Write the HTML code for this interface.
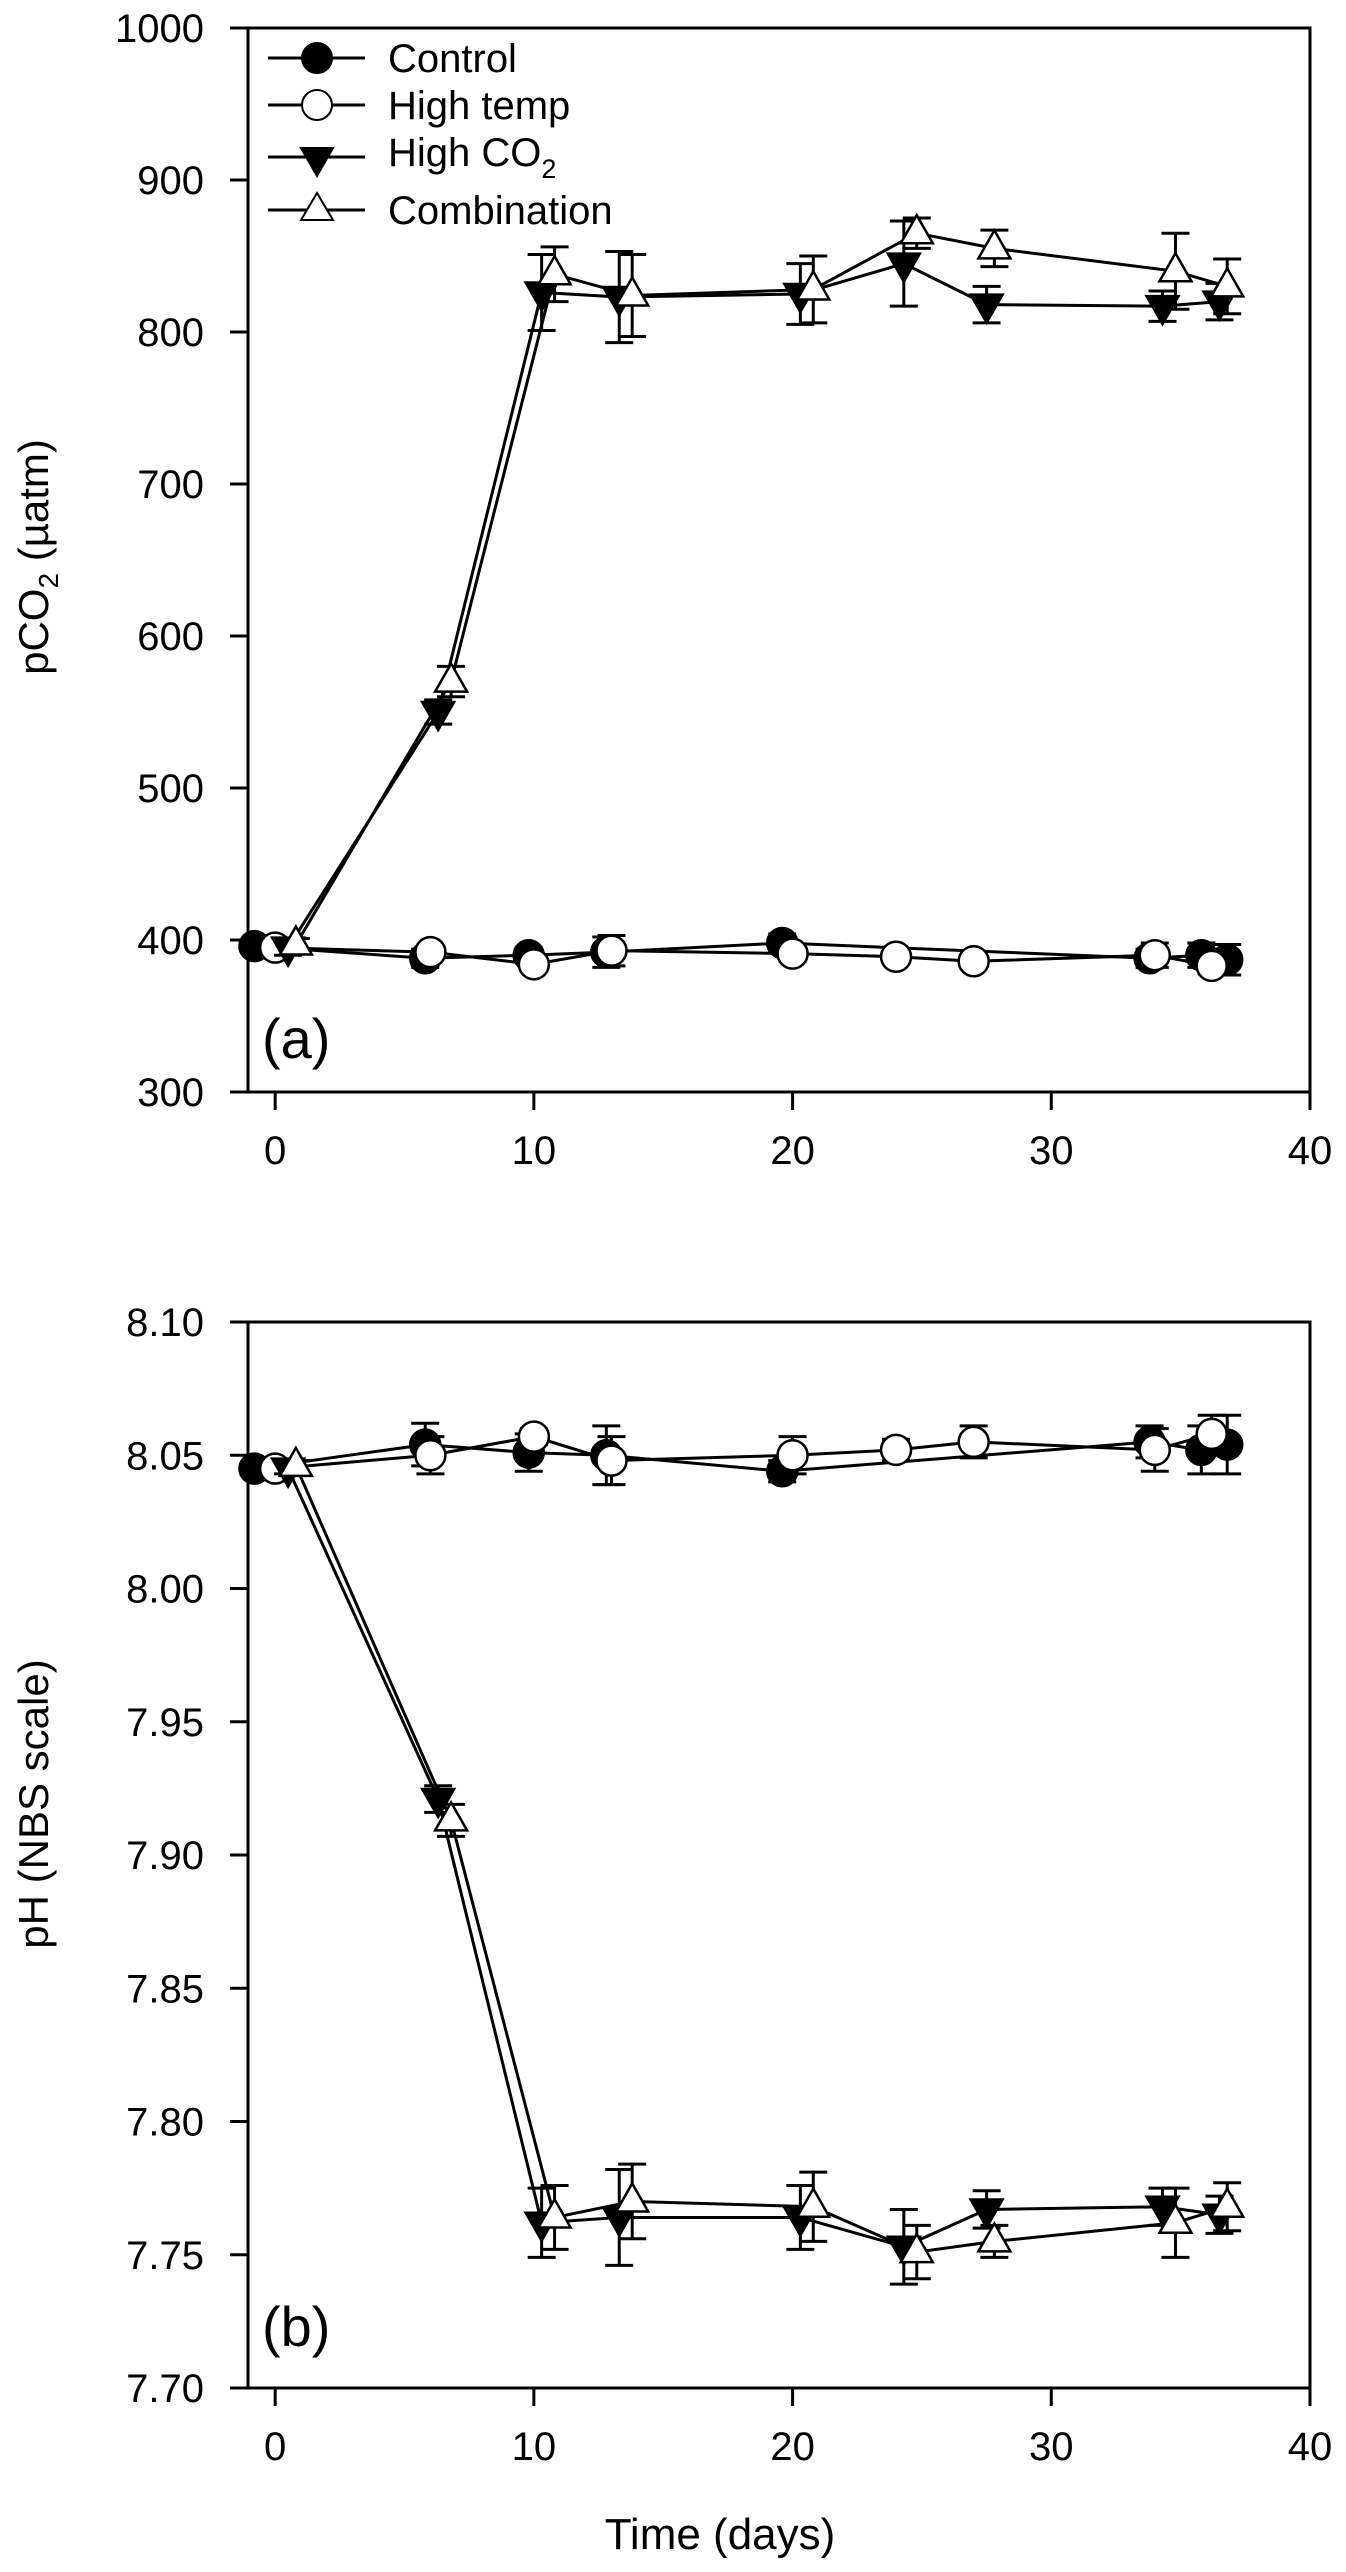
<!DOCTYPE html>
<html><head><meta charset="utf-8"><style>
html,body{margin:0;padding:0;background:#fff;}
svg{display:block;font-family:"Liberation Sans",Arial,sans-serif;}
</style></head><body>
<svg id="chart" width="1346" height="2572" viewBox="0 0 1346 2572" xmlns="http://www.w3.org/2000/svg">
<rect x="0" y="0" width="1346" height="2572" fill="#fff"/>
<g id="pa"></g>
<g id="pb"></g>
<text transform="translate(48,557) rotate(-90)" text-anchor="middle" font-size="42">pCO<tspan font-size="28" dy="10">2</tspan><tspan dy="-10"> (µatm)</tspan></text>
<text transform="translate(48,1804) rotate(-90)" text-anchor="middle" font-size="42">pH (NBS scale)</text>
<text x="720" y="2549" text-anchor="middle" font-size="44">Time (days)</text>
<text x="262" y="1058" font-size="56">(a)</text>
<text x="262" y="2346" font-size="56">(b)</text>
<g>
  <g><line x1="268" y1="58" x2="365" y2="58" stroke="#000" stroke-width="3"/><circle cx="317" cy="58" r="15" fill="#000" stroke="#000" stroke-width="2"/><text x="388" y="72" font-size="40">Control</text></g>
  <g><line x1="268" y1="105" x2="365" y2="105" stroke="#000" stroke-width="3"/><circle cx="317" cy="105" r="15" fill="#fff" stroke="#000" stroke-width="2"/><text x="388" y="119" font-size="40">High temp</text></g>
  <g><line x1="268" y1="157" x2="365" y2="157" stroke="#000" stroke-width="3"/><polygon points="301,148 333,148 317,176" fill="#000" stroke="#000" stroke-width="2"/><text x="388" y="166" font-size="40">High CO<tspan font-size="27" dy="12">2</tspan></text></g>
  <g><line x1="268" y1="210" x2="365" y2="210" stroke="#000" stroke-width="3"/><polygon points="301,220 333,220 317,193" fill="#fff" stroke="#000" stroke-width="2"/><text x="388" y="224" font-size="40">Combination</text></g>
</g>
</svg>
<script>
const xTicks = [0, 10, 20, 30, 40];
const aTicks = [300, 400, 500, 600, 700, 800, 900, 1000];
const bTicks = [7.70, 7.75, 7.80, 7.85, 7.90, 7.95, 8.00, 8.05, 8.10];

const ctrlDays = [-0.8, 5.8, 9.8, 12.8, 19.6, 33.8, 35.8, 36.8];
const tempDays = [0, 6, 10, 13, 20, 24, 27, 34, 36.2];
const co2Days = [0.5, 6.3, 10.3, 13.3, 20.3, 24.3, 27.5, 34.3, 36.5];
const combDays = [0.8, 6.8, 10.8, 13.8, 20.8, 24.8, 27.8, 34.8, 36.8];

const ctrlPco2 = [396, 388, 390, 392, 398, 388, 390, 387];
const ctrlPco2Err = [4, 6, 5, 10, 6, 6, 8, 10];
const tempPco2 = [395, 392, 384, 393, 391, 389, 386, 390, 383];
const tempPco2Err = [3, 4, 4, 10, 5, 3, 4, 8, 5];
const co2Pco2 = [395, 550, 826, 823, 825, 845, 818, 817, 820];
const co2Pco2Err = [5, 8, 25, 30, 20, 28, 12, 10, 12];
const combPco2 = [397, 570, 838, 824, 828, 865, 855, 840, 830];
const combPco2Err = [4, 10, 18, 27, 22, 10, 12, 25, 18];

const ctrlPh = [8.045, 8.054, 8.051, 8.050, 8.044, 8.055, 8.052, 8.054];
const ctrlPhErr = [0.002, 0.008, 0.007, 0.011, 0.004, 0.006, 0.009, 0.011];
const tempPh = [8.045, 8.050, 8.057, 8.048, 8.050, 8.052, 8.055, 8.052, 8.058];
const tempPhErr = [0.002, 0.007, 0.003, 0.009, 0.007, 0.004, 0.006, 0.008, 0.007];
const co2Ph = [8.045, 7.921, 7.762, 7.764, 7.764, 7.753, 7.767, 7.768, 7.765];
const co2PhErr = [0.002, 0.005, 0.013, 0.018, 0.012, 0.014, 0.007, 0.007, 0.007];
const combPh = [8.046, 7.913, 7.764, 7.770, 7.768, 7.751, 7.755, 7.762, 7.768];
const combPhErr = [0.002, 0.006, 0.012, 0.014, 0.013, 0.010, 0.006, 0.013, 0.009];

const NS = 'http://www.w3.org/2000/svg';
const X0 = 248, X1 = 1310, DMIN = -1.05, DMAX = 40;
function xs(d){ return X0 + (d - DMIN) / (DMAX - DMIN) * (X1 - X0); }
function mk(parent, tag, attrs){
  const e = document.createElementNS(NS, tag);
  for (const k in attrs) e.setAttribute(k, attrs[k]);
  parent.appendChild(e);
  return e;
}
function panel(g, top, bot, vmin, vmax, ticks, dec, series){
  const ys = v => bot - (v - vmin) / (vmax - vmin) * (bot - top);
  const frame = mk(g, 'rect', {x:X0, y:top, width:X1-X0, height:bot-top, fill:'none', stroke:'#000', 'stroke-width':3});
  
  
  ticks.forEach(t => {
    const y = ys(t);
    const tl = mk(g, 'line', {x1:X0-18, y1:y, x2:X0, y2:y, stroke:'#000', 'stroke-width':3});
    
    
    const tx = mk(g, 'text', {x:204, y:y+14, 'text-anchor':'end', 'font-size':40});
    
    
    tx.textContent = t.toFixed(dec);
  });
  xTicks.forEach(t => {
    const x = xs(t);
    const tl = mk(g, 'line', {x1:x, y1:bot, x2:x, y2:bot+18, stroke:'#000', 'stroke-width':3});
    
    
    const tx = mk(g, 'text', {x:x, y:bot+72, 'text-anchor':'middle', 'font-size':40});
    
    
    tx.textContent = t;
  });
  series.forEach(s => {
    const sg = mk(g, 'g', {});
    
    
    const pts = s.days.map((d, i) => xs(d) + ',' + ys(s.vals[i])).join(' ');
    const pl = mk(sg, 'polyline', {points:pts, fill:'none', stroke:'#000', 'stroke-width':3});
    
    
    s.days.forEach((d, i) => {
      const x = xs(d), v = s.vals[i], e = s.err[i];
      const yt = ys(v + e), yb = ys(v - e);
      const eb = mk(sg, 'path', {d:'M'+x+','+yt+'V'+yb+'M'+(x-14)+','+yt+'H'+(x+14)+'M'+(x-14)+','+yb+'H'+(x+14), stroke:'#000', 'stroke-width':3, fill:'none'});
      
      
    });
    s.days.forEach((d, i) => {
      const x = xs(d), y = ys(s.vals[i]);
      let m;
      if (s.shape === 'circle') m = mk(sg, 'circle', {cx:x, cy:y, r:15, fill:s.fill, stroke:'#000', 'stroke-width':2.5});
      else if (s.shape === 'down') m = mk(sg, 'polygon', {points:(x-16)+','+(y-10)+' '+(x+16)+','+(y-10)+' '+x+','+(y+18), fill:s.fill, stroke:'#000', 'stroke-width':2.5});
      else m = mk(sg, 'polygon', {points:(x-16)+','+(y+10)+' '+(x+16)+','+(y+10)+' '+x+','+(y-18), fill:s.fill, stroke:'#000', 'stroke-width':2.5});
      
      
    });
  });
}
panel(document.getElementById('pa'), 28, 1092, 300, 1000, aTicks, 0, [
  {name:'control', days:ctrlDays, vals:ctrlPco2, err:ctrlPco2Err, shape:'circle', fill:'#000'},
  {name:'high-temp', days:tempDays, vals:tempPco2, err:tempPco2Err, shape:'circle', fill:'#fff'},
  {name:'high-co2', days:co2Days, vals:co2Pco2, err:co2Pco2Err, shape:'down', fill:'#000'},
  {name:'combination', days:combDays, vals:combPco2, err:combPco2Err, shape:'up', fill:'#fff'}
]);
panel(document.getElementById('pb'), 1322, 2388, 7.70, 8.10, bTicks, 2, [
  {name:'control', days:ctrlDays, vals:ctrlPh, err:ctrlPhErr, shape:'circle', fill:'#000'},
  {name:'high-temp', days:tempDays, vals:tempPh, err:tempPhErr, shape:'circle', fill:'#fff'},
  {name:'high-co2', days:co2Days, vals:co2Ph, err:co2PhErr, shape:'down', fill:'#000'},
  {name:'combination', days:combDays, vals:combPh, err:combPhErr, shape:'up', fill:'#fff'}
]);
</script>
</body></html>
